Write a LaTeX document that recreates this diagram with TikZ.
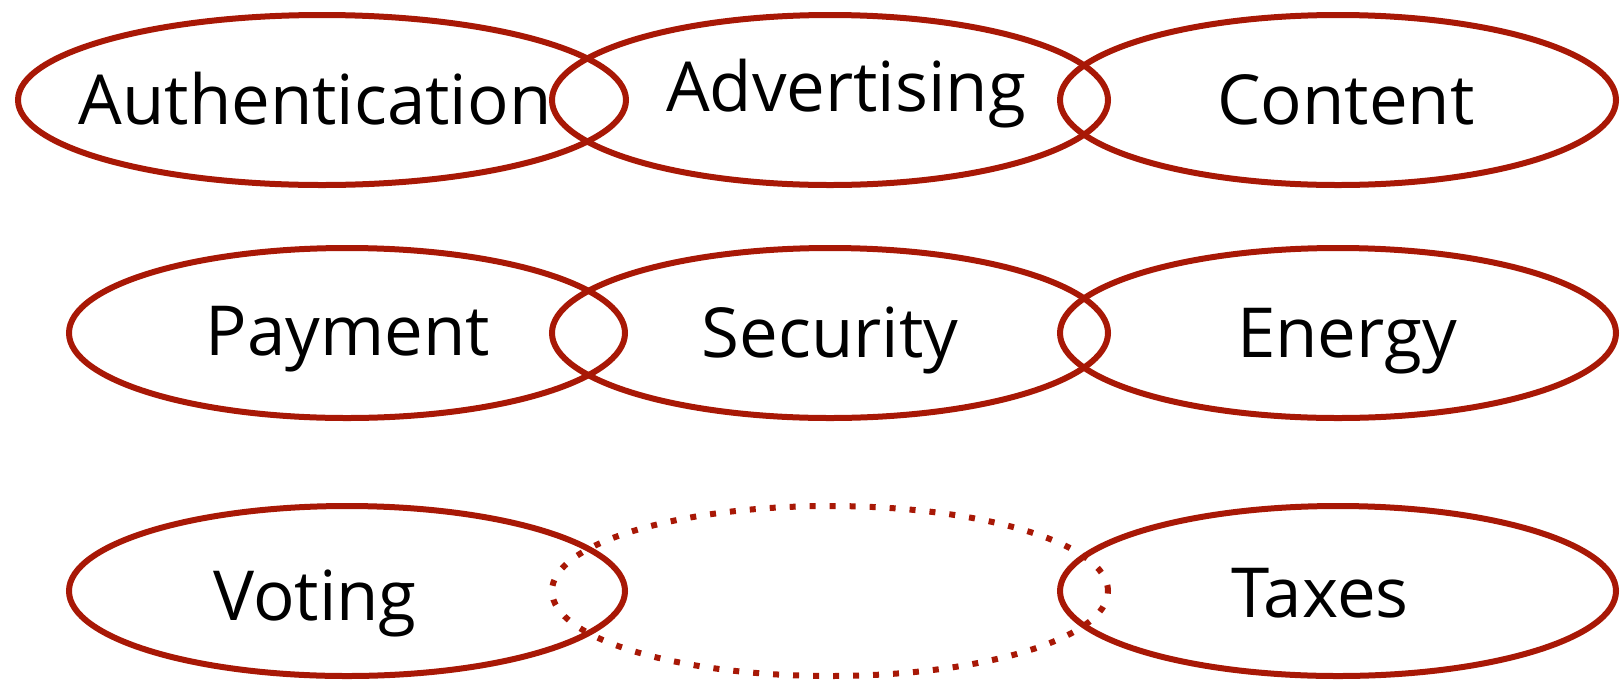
\documentclass[tikz,border=0pt]{standalone}
\usepackage{fontspec}
\setmainfont{Open Sans}
\usetikzlibrary{shapes.geometric}

\definecolor{ringred}{RGB}{168,24,6}

\begin{document}
\begin{tikzpicture}[
  x = 1pt, y = -1pt,
  ring/.style = {draw = ringred, line width = 6pt, ellipse, inner sep = 0pt,
                 minimum width = 556pt, minimum height = 170pt},
  open ring/.style = {ring, dash pattern = on 6pt off 14pt},
  word/.style = {anchor = base, font = \fontsize{69}{76}\selectfont},
  ]
  \useasboundingbox (0,0) rectangle (1621,681);

  % top row
  \node[ring, minimum width = 608pt] (auth) at (322,100) {};
  \node[ring] (adv) at (830,100) {};
  \node[ring] (cont) at (1338,100) {};
  % middle row
  \node[ring] (pay) at (347,333) {};
  \node[ring] (sec) at (830,333) {};
  \node[ring] (ener) at (1338,333) {};
  % bottom row
  \node[ring] (vote) at (347,591) {};
  \node[open ring] (gap) at (830,591) {};
  \node[ring] (tax) at (1338,591) {};

  \node[word] (authtext) at (315,124) {Authentication};
  \node[word] (advtext) at (846,111) {Advertising};
  \node[word] (conttext) at (1346,124) {Content};
  \node[word] (paytext) at (348,355) {Payment};
  \node[word] (sectext) at (830,357) {Security};
  \node[word] (enertext) at (1347,357) {Energy};
  \node[word] (votetext) at (315,620) {Voting};
  \node[word] (taxtext) at (1320,617) {Taxes};
\end{tikzpicture}
\end{document}
